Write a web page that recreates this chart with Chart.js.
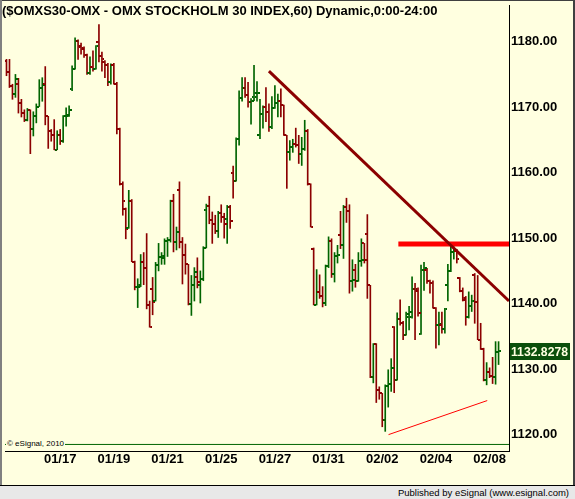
<!DOCTYPE html>
<html>
<head>
<meta charset="utf-8">
<script src="https://cdn.jsdelivr.net/npm/chart.js@4.4.0/dist/chart.umd.min.js"></script>
<style>
  body { margin: 0; background: #ffffe0; }
  #wrap { position: relative; width: 575px; height: 499px; background: #ffffe0; overflow: hidden; font-family: Arial, "Liberation Sans", sans-serif; }
  #chart { position: absolute; left: 0; top: 0; }
  #title { position: absolute; left: 2px; top: 3px; font-weight: bold; font-size: 13px; color: #000; white-space: nowrap; }
  #copy { position: absolute; left: 6px; top: 439px; font-size: 8px; line-height: 10px; color: #000; background: #ffffe0; padding: 0 1px; }
  #status { position: absolute; left: 0; top: 485px; width: 575px; height: 13px; border-top: 1px solid #000; background: #e8e8e8; font-size: 9.5px; line-height: 13px; text-align: right; }
  #status span { padding-right: 6px; }
  .edgeL { position: absolute; left: 0; top: 0; width: 2px; height: 485px; background: #808080; }
  .edgeT { position: absolute; left: 0; top: 0; width: 575px; height: 1px; background: #404040; }
  .edgeR { position: absolute; right: 0; top: 0; width: 2px; height: 499px; background: #404040; }
</style>
</head>
<body>
<div id="wrap">
  <canvas id="chart" width="575" height="485"></canvas>
  <div class="edgeT"></div>
  <div class="edgeL"></div>
  <div class="edgeR"></div>
  <div id="title">($OMXS30-OMX - OMX STOCKHOLM 30 INDEX,60) Dynamic,0:00-24:00</div>
  <div id="copy">&copy; eSignal, 2010</div>
  <div id="status"><span>Published by eSignal (www.esignal.com)</span></div>
</div>
<script>
// hourly bars
const opens = [
  1177.1,1175.3,1173.2,1172.0,1173.5,1170.7,1169.1,1168.1,1169.6,1166.6,
  1168.6,1170.1,1173.0,1173.5,1168.6,1166.4,1165.7,1163.5,1165.8,1164.8,
  1168.6,1168.6,1172.8,1175.9,1180.1,1179.2,1179.1,1177.9,1175.2,1176.2,
  1175.9,1180.0,1177.8,1176.9,1176.4,1173.8,1176.4,1173.5,1166.6,1158.2,
  1154.5,1151.5,1155.6,1146.4,1142.5,1142.6,1146.3,1145.5,1139.8,1142.3,
  1140.4,1145.9,1147.1,1147.0,1149.6,1149.7,1155.6,1149.4,1157.3,1149.4,
  1147.5,1146.0,1139.9,1142.9,1144.1,1142.9,1143.8,1154.3,1154.9,1152.7,
  1152.2,1151.1,1153.8,1153.2,1153.0,1154.8,1160.0,1158.8,1165.2,1171.4,
  1173.0,1171.8,1170.8,1171.6,1171.5,1165.8,1168.9,1170.0,1169.2,1166.9,
  1169.8,1170.6,1171.0,1170.3,1165.7,1163.1,1163.9,1164.4,1164.2,1162.9,
  1163.6,1166.4,1158.2,1148.4,1139.8,1141.8,1141.1,1140.1,1145.8,1149.5,
  1144.5,1147.2,1150.5,1149.0,1154.8,1154.1,1143.5,1145.2,1143.5,1146.5,
  1149.2,1150.7,1142.8,1128.8,1133.9,1126.8,1126.3,1122.2,1127.4,1127.8,
  1136.4,1128.4,1137.7,1137.0,1135.2,1137.9,1137.9,1142.3,1142.3,1135.3,
  1145.1,1145.1,1143.5,1143.1,1139.4,1136.7,1136.7,1136.2,1142.9,1145.0,
  1147.9,1148.0,1143.9,1141.9,1140.6,1137.9,1139.7,1144.4,1140.3,1134.5,
  1133.1,1128.4,1129.6,1128.9,1128.8,1132.6
];
const highs = [
  1177.3,1177.3,1173.5,1175.0,1174.4,1171.2,1169.6,1169.8,1169.6,1169.3,
  1170.5,1174.2,1174.5,1176.2,1168.6,1166.6,1168.1,1166.4,1166.6,1168.7,
  1169.9,1170.2,1176.3,1180.6,1180.3,1179.8,1179.2,1178.1,1177.7,1178.6,
  1179.4,1182.6,1178.4,1177.1,1176.7,1176.6,1176.7,1173.8,1166.8,1158.6,
  1154.6,1157.3,1155.9,1146.5,1143.8,1147.5,1147.8,1150.7,1140.4,1144.0,
  1146.3,1149.2,1147.8,1149.9,1150.1,1155.8,1156.7,1151.7,1158.6,1150.1,
  1149.1,1146.0,1144.3,1145.5,1147.0,1145.0,1148.7,1155.2,1156.4,1154.0,
  1153.5,1154.1,1155.1,1153.8,1155.0,1155.0,1161.0,1165.3,1172.5,1174.5,
  1174.5,1173.8,1171.3,1176.4,1173.9,1171.2,1170.2,1173.0,1170.5,1171.6,
  1173.3,1172.0,1172.8,1170.3,1165.7,1164.9,1165.1,1166.8,1165.7,1165.4,
  1168.0,1166.6,1158.3,1148.5,1145.2,1144.4,1142.6,1145.9,1150.2,1149.9,
  1147.8,1148.9,1154.1,1155.0,1156.1,1155.1,1146.7,1146.0,1147.8,1149.9,
  1149.2,1153.6,1142.8,1133.9,1133.9,1127.3,1126.3,1127.6,1129.9,1131.6,
  1136.5,1138.6,1140.6,1137.3,1138.7,1139.6,1144.1,1143.1,1142.4,1145.9,
  1146.3,1145.4,1143.6,1143.5,1139.4,1138.7,1138.7,1139.3,1146.0,1148.9,
  1148.7,1148.3,1144.0,1142.4,1141.1,1141.8,1141.3,1144.6,1144.3,1137.0,
  1133.2,1131.0,1130.2,1131.8,1134.2,1134.2
];
const lows = [
  1174.8,1173.0,1171.2,1171.5,1169.1,1168.5,1167.8,1167.9,1162.9,1165.6,
  1167.6,1170.1,1170.9,1167.3,1163.7,1164.8,1163.5,1163.5,1164.3,1164.6,
  1167.1,1168.6,1172.5,1175.8,1177.3,1178.1,1177.6,1175.0,1175.0,1175.5,
  1175.8,1176.9,1175.5,1174.5,1173.3,1173.5,1173.5,1165.9,1158.1,1153.5,
  1149.9,1151.5,1146.4,1142.1,1139.4,1142.6,1142.9,1139.2,1136.4,1138.3,
  1140.4,1145.0,1146.0,1146.0,1147.2,1149.4,1147.9,1148.2,1148.5,1143.0,
  1144.5,1139.8,1138.2,1140.4,1142.4,1140.1,1143.5,1148.5,1152.2,1149.2,
  1150.7,1150.1,1152.4,1150.0,1149.2,1151.5,1156.1,1158.7,1164.2,1170.9,
  1171.5,1170.0,1167.4,1171.0,1170.9,1165.2,1166.8,1167.8,1166.3,1166.7,
  1169.8,1168.5,1168.5,1165.7,1157.6,1161.9,1163.1,1163.9,1161.4,1161.1,
  1163.4,1158.1,1151.7,1139.8,1139.8,1140.8,1139.5,1139.7,1145.5,1144.0,
  1143.3,1146.2,1148.4,1146.9,1152.4,1141.6,1141.9,1142.5,1143.4,1145.7,
  1146.2,1140.8,1128.7,1127.9,1124.9,1125.4,1121.2,1120.5,1124.2,1126.6,
  1126.4,1128.3,1136.7,1134.5,1135.2,1136.0,1137.8,1134.5,1138.1,1135.3,
  1142.0,1143.1,1141.6,1139.3,1133.2,1133.7,1135.5,1135.5,1140.4,1144.9,
  1146.8,1146.2,1141.8,1140.4,1136.7,1137.8,1138.8,1137.0,1134.5,1133.0,
  1128.2,1127.6,1128.7,1127.8,1127.7,1130.7
];
const closes = [
  1175.3,1173.2,1172.0,1174.3,1170.7,1169.1,1168.1,1169.6,1166.6,1168.6,
  1170.1,1173.0,1173.4,1168.6,1166.4,1165.7,1163.5,1165.8,1164.8,1168.6,
  1168.8,1169.5,1175.9,1180.1,1179.3,1178.9,1177.9,1175.2,1176.2,1175.9,
  1179.3,1177.8,1177.3,1176.4,1173.8,1176.4,1173.6,1166.6,1158.2,1155.6,
  1151.4,1155.6,1146.4,1142.6,1142.8,1146.4,1145.5,1139.8,1136.4,1140.3,
  1145.9,1147.1,1147.3,1149.6,1149.7,1155.6,1149.4,1150.9,1149.4,1147.5,
  1146.0,1139.9,1142.9,1144.8,1143.3,1143.8,1148.5,1154.9,1152.7,1152.2,
  1151.1,1153.8,1153.2,1152.2,1154.8,1152.6,1158.8,1165.2,1171.4,1173.0,
  1171.8,1170.8,1171.0,1172.2,1172.2,1168.9,1170.0,1169.2,1166.9,1169.8,
  1170.6,1171.0,1170.3,1165.7,1163.1,1163.9,1164.4,1164.2,1162.9,1163.6,
  1166.4,1158.2,1151.7,1139.8,1141.8,1141.1,1140.1,1145.8,1149.5,1144.5,
  1147.2,1147.4,1149.0,1154.8,1154.1,1143.5,1143.6,1143.5,1146.5,1146.7,
  1146.7,1142.8,1128.8,1133.9,1126.8,1126.3,1122.2,1127.4,1127.8,1130.2,
  1128.4,1137.7,1137.0,1135.2,1138.4,1138.8,1142.3,1142.0,1138.6,1145.1,
  1145.4,1143.5,1143.1,1139.4,1136.7,1136.9,1136.2,1139.2,1145.0,1147.9,
  1148.0,1146.8,1141.9,1140.9,1137.9,1139.7,1140.4,1140.3,1134.5,1133.1,
  1128.4,1129.6,1128.9,1128.8,1132.6,1132.8278
];

// date labels and the bar index they sit under
const dateLabels = ['01/17', '01/19', '01/21', '01/25', '01/27', '01/31', '02/02', '02/04', '02/08'];
const datePos = [18, 36, 54, 72, 90, 108, 126, 144, 162];
const priceTicks = [1120, 1130, 1140, 1150, 1160, 1170, 1180];

// drawn studies: [bar index, price]
const downTrend = [[88, 1175.5], [168.5, 1140.4]];
const resistance = [[131.4, 1149.1], [168.5, 1149.1]];
const upTrend = [[128.1, 1120.0], [161.2, 1125.2]];
const baseLevel = 1118.5;

const RED = '#8b0000';
const GREEN = '#006400';

const idx = opens.map((_, i) => i);
const isUp = idx.map(i => closes[i] >= opens[i]);
const barColors = isUp.map(u => u ? GREEN : RED);

// small sprites for the open (left) and close (right) ticks
function tickSprite(color, side){
    const c = document.createElement('canvas');
    c.width = 5;
    c.height = 2;
    const g = c.getContext('2d');
    g.fillStyle = color;
    g.fillRect(side === 'left' ? 0 : 3, 0, 2, 2);
    return c;
}
const sprites = {
    openUp: tickSprite(GREEN, 'left'), openDown: tickSprite(RED, 'left'),
    closeUp: tickSprite(GREEN, 'right'), closeDown: tickSprite(RED, 'right')
};

const toPoints = pairs => pairs.map(p => ({x: p[0], y: p[1]}));

const lastPriceBox = {
    id: 'lastPriceBox',
    afterDraw(chart){
        const {ctx, scales: {y}} = chart;
        const last = closes[closes.length - 1];
        const py = Math.round(y.getPixelForValue(last));
        ctx.save();
        ctx.fillStyle = '#0b4f0b';
        ctx.fillRect(510, py - 8, 60, 17);
        ctx.fillStyle = '#ffffe0';
        ctx.font = 'bold 13px Arial, "Liberation Sans", sans-serif';
        ctx.textBaseline = 'middle';
        ctx.fillText(last.toFixed(4), 511, py + 1, 57);
        ctx.restore();
    }
};

const axisFont = {family: 'Arial, "Liberation Sans", sans-serif', size: 13, weight: 'bold'};

new Chart(document.getElementById('chart'), {
    type: 'bar',
    data: {
        datasets: [
            {
                type: 'line', data: toPoints(downTrend), borderColor: RED, borderWidth: 3,
                pointRadius: 0, order: 0
            },
            {
                type: 'line', data: toPoints(resistance), borderColor: '#ff0000', borderWidth: 5,
                pointRadius: 0, order: 0
            },
            {
                type: 'line', data: toPoints(upTrend), borderColor: '#ff0000', borderWidth: 1,
                pointRadius: 0, order: 0
            },
            {
                type: 'line', data: [{x: -0.5, y: baseLevel}, {x: 168.5, y: baseLevel}],
                borderColor: GREEN, borderWidth: 1, pointRadius: 0, order: 3
            },
            {
                type: 'line', showLine: false, order: 1,
                data: idx.map(i => ({x: i, y: opens[i]})),
                pointStyle: idx.map(i => isUp[i] ? sprites.openUp : sprites.openDown),
                pointRadius: 1
            },
            {
                type: 'line', showLine: false, order: 1,
                data: idx.map(i => ({x: i, y: closes[i]})),
                pointStyle: idx.map(i => isUp[i] ? sprites.closeUp : sprites.closeDown),
                pointRadius: 1
            },
            {
                type: 'bar', order: 2,
                data: idx.map(i => ({x: i, y: [lows[i], highs[i]]})),
                backgroundColor: barColors,
                borderWidth: 0,
                barThickness: 1
            }
        ]
    },
    options: {
        responsive: false,
        animation: false,
        events: [],
        layout: {padding: {left: 2, top: 2, right: 0, bottom: 0}},
        plugins: {legend: {display: false}, tooltip: {enabled: false}},
        scales: {
            x: {
                type: 'linear', min: -0.5, max: 168.5, offset: false,
                grid: {display: false, drawTicks: false},
                border: {display: true, color: '#000', width: 1},
                afterBuildTicks: axis => { axis.ticks = datePos.map(v => ({value: v})); },
                afterFit: axis => {
                    axis.height = 34;
                    axis.paddingLeft = 0;
                    axis.paddingRight = 0;
                },
                ticks: {
                    autoSkip: false, maxRotation: 0, padding: 1, color: '#000', font: axisFont,
                    callback: (v, i) => dateLabels[i]
                }
            },
            y: {
                position: 'right', min: 1117.5, max: 1185.6,
                grid: {display: false, drawTicks: false},
                border: {display: true, color: '#000', width: 1},
                afterBuildTicks: axis => { axis.ticks = priceTicks.map(v => ({value: v})); },
                afterFit: axis => {
                    axis.width = 66;
                    axis.paddingTop = 0;
                    axis.paddingBottom = 0;
                },
                ticks: {
                    padding: 2, color: '#000', font: axisFont,
                    callback: v => v.toFixed(2)
                }
            }
        }
    },
    plugins: [lastPriceBox]
});
</script>
</body>
</html>
